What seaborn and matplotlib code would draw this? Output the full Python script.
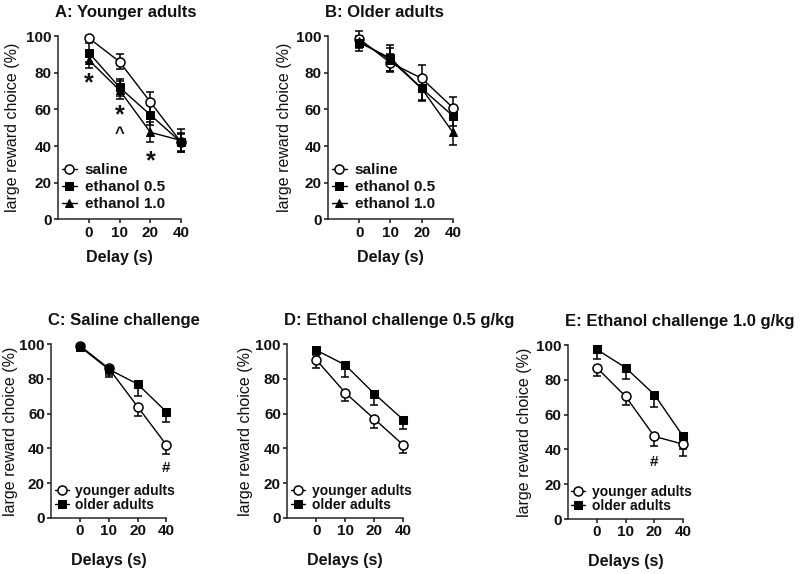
import seaborn as sns
import matplotlib
matplotlib.use("Agg")
import matplotlib.pyplot as plt
import pandas as pd

### Data
delays = ["0", "10", "20", "40"]

young_saline = [99, 86, 64, 42]
young_saline_err = [1, 4, 5.5, 5]
young_eth05 = [91, 72, 57, 42]
young_eth05_err = [5, 4.5, 5.5, 4.5]
young_eth10 = [87, 70.5, 47.5, 43]
young_eth10_err = [4.5, 5, 5.5, 6.5]

old_saline = [98.5, 85.5, 77, 61]
old_saline_err = [1.5, 4.5, 7, 6]
old_eth05 = [96.5, 88, 71.5, 56.5]
old_eth05_err = [3, 7, 6.5, 5.5]
old_eth10 = [97.5, 87, 71.5, 47.5]
old_eth10_err = [5.5, 6.5, 7, 7]

sns.set_style("ticks")
plt.rcParams["font.family"] = ["Liberation Sans", "DejaVu Sans"]
plt.rcParams["text.color"] = "#111111"
plt.rcParams["axes.labelcolor"] = "#111111"
plt.rcParams["xtick.color"] = "#111111"
plt.rcParams["ytick.color"] = "#111111"

fig = plt.figure(figsize=(8, 5.74), dpi=100)

MARK = {"circle": dict(marker="o", markerfacecolor="white", markeredgecolor="black", markeredgewidth=1.1, markersize=6.5),
        "square": dict(marker="s", markerfacecolor="black", markeredgecolor="black", markersize=5.5),
        "triangle": dict(marker="^", markerfacecolor="black", markeredgecolor="black", markersize=6)}


def draw_series(ax, vals, errs, label, style, lower_only=False):
    df = pd.DataFrame({"pos": range(len(delays)), "value": vals})
    sns.lineplot(data=df, x="pos", y="value", ax=ax, color="black", linewidth=1.0,
                 label=label, zorder=4, clip_on=False, **MARK[style])
    upper = [0] * len(errs) if lower_only else errs
    ax.errorbar(df["pos"], df["value"], yerr=[errs, upper], fmt="none", ecolor="black",
                elinewidth=1.1, capsize=2.8, capthick=1.1, zorder=3, clip_on=False)


def style_axes(ax, title, xlabel, ylab_x, xlab_y):
    ax.set_xlim(-1, 3)
    ax.set_ylim(0, 100)
    ax.set_xticks(range(len(delays)))
    ax.set_xticklabels(delays)
    ax.set_yticks([0, 20, 40, 60, 80, 100])
    for lab in ax.get_xticklabels() + ax.get_yticklabels():
        lab.set_fontweight("bold")
        lab.set_fontsize(11)
    ax.tick_params(length=3, width=1.1, pad=1.5)
    sns.despine(ax=ax)
    for s in ["left", "bottom"]:
        ax.spines[s].set_linewidth(1.1)
    ax.set_ylabel("large reward choice (%)", fontsize=11.5)
    ax.yaxis.set_label_coords(ylab_x, 0.5)
    ax.set_xlabel(xlabel, fontsize=11.5, fontweight="bold")
    ax.xaxis.set_label_coords(0.5, xlab_y)
    ax.set_title(title, loc="left", fontsize=12, fontweight="bold", pad=14, x=-0.025)


### Top row
axA = fig.add_axes([0.0725, 0.618, 0.154, 0.319])
draw_series(axA, young_saline, young_saline_err, "saline", "circle")
draw_series(axA, young_eth05, young_eth05_err, "ethanol 0.5", "square")
draw_series(axA, young_eth10, young_eth10_err, "ethanol 1.0", "triangle")
style_axes(axA, "A: Younger adults", "Delay (s)", -0.31, -0.17)
for x, y, s in [(0, 74.5, "*"), (1, 57, "*"), (1, 47, "^"), (2, 31.5, "*")]:
    axA.text(x, y, s, ha="center", va="center", fontsize=18 if s == "*" else 12, fontweight="bold")

axB = fig.add_axes([0.41, 0.618, 0.156, 0.319])
draw_series(axB, old_saline, old_saline_err, "saline", "circle")
draw_series(axB, old_eth05, old_eth05_err, "ethanol 0.5", "square")
draw_series(axB, old_eth10, old_eth10_err, "ethanol 1.0", "triangle")
style_axes(axB, "B: Older adults", "Delay (s)", -0.29, -0.17)

for ax in [axA, axB]:
    ax.legend(loc="lower left", bbox_to_anchor=(0.03, 0.045), frameon=False,
              prop={"size": 11, "weight": "bold"}, handlelength=1.0, handletextpad=0.5,
              labelspacing=0.2, borderpad=0, borderaxespad=0)

### Bottom row
panels = [
    ([0.064, 0.0976, 0.144, 0.303], "C: Saline challenge", young_saline, young_saline_err, old_saline, old_saline_err, -0.287),
    ([0.359, 0.0976, 0.145, 0.303], "D: Ethanol challenge 0.5 g/kg", young_eth05, young_eth05_err, old_eth05, old_eth05_err, -0.293),
    ([0.71, 0.0958, 0.144, 0.303], "E: Ethanol challenge 1.0 g/kg", young_eth10, young_eth10_err, old_eth10, old_eth10_err, -0.313),
]
bottom_axes = []
for rect, title, yv, ye, ov, oe, ylx in panels:
    ax = fig.add_axes(rect)
    draw_series(ax, yv, ye, "younger adults", "circle", lower_only=True)
    draw_series(ax, ov, oe, "older adults", "square", lower_only=True)
    style_axes(ax, title, "Delays (s)", ylx, -0.2)
    ax.legend(loc="lower left", bbox_to_anchor=(0.03, 0.035), frameon=False,
              prop={"size": 10, "weight": "bold"}, handlelength=1.0, handletextpad=0.5,
              labelspacing=-0.02, borderpad=0, borderaxespad=0)
    bottom_axes.append(ax)

bottom_axes[0].text(3, 28.5, "#", ha="center", va="center", fontsize=11, fontweight="bold")
bottom_axes[2].text(2, 33, "#", ha="center", va="center", fontsize=11, fontweight="bold")

fig.savefig("out.png", dpi=100)
